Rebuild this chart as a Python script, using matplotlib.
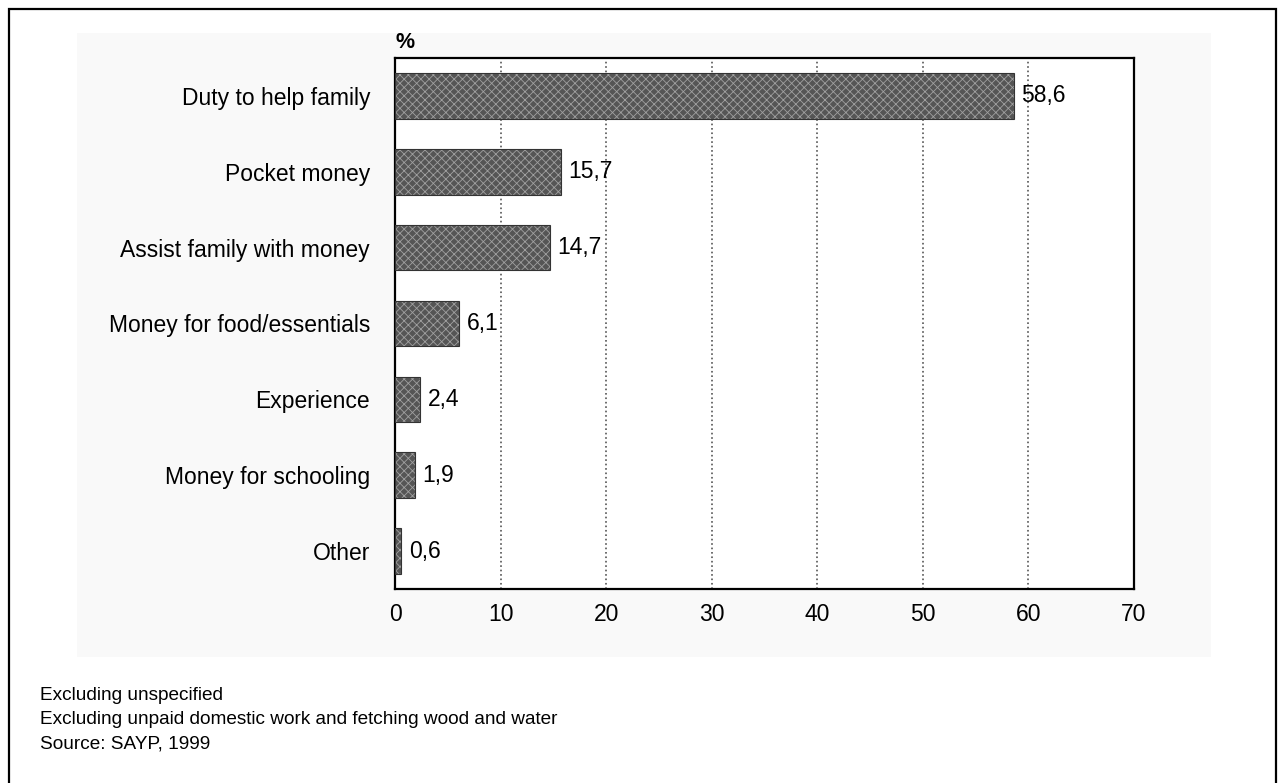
import matplotlib.pyplot as plt
from matplotlib.patches import Rectangle

categories = ["Duty to help family", "Pocket money", "Assist family with money",
              "Money for food/essentials", "Experience", "Money for schooling", "Other"]
values = [58.6, 15.7, 14.7, 6.1, 2.4, 1.9, 0.6]
value_labels = ["58,6", "15,7", "14,7", "6,1", "2,4", "1,9", "0,6"]
xticks = [0, 10, 20, 30, 40, 50, 60, 70]
notes = ["Excluding unspecified",
         "Excluding unpaid domestic work and fetching wood and water",
         "Source: SAYP, 1999"]

plt.rcParams['font.family'] = ['Liberation Sans', 'DejaVu Sans']
plt.rcParams['hatch.color'] = '#a8a8a8'
plt.rcParams['hatch.linewidth'] = 0.6

W, H = 1278, 783
fig = plt.figure(figsize=(W / 100, H / 100), dpi=100)
fig.patch.set_facecolor('white')

# outer frame and grey panel (behind the axes)
fig.add_artist(Rectangle((9 / W, -0.05), 1267 / W, 1.05 - 9 / H,
                         transform=fig.transFigure, fill=False,
                         edgecolor='black', linewidth=1.6, zorder=-2))
fig.add_artist(Rectangle((77 / W, 1 - 657 / H), (1211 - 77) / W, (657 - 33) / H,
                         transform=fig.transFigure, facecolor='#f9f9f9',
                         edgecolor='none', zorder=-1))

ax = fig.add_axes([395 / W, 1 - 589 / H, (1134 - 395) / W, (589 - 58) / H])
ax.set_facecolor('white')

ypos = list(range(len(categories)))
ax.barh(ypos, values, height=0.6, color='#555555', hatch='xxxx',
        edgecolor='#a0a0a0', linewidth=0, zorder=3)
ax.barh(ypos, values, height=0.6, fill=False, edgecolor='#333333',
        linewidth=0.8, zorder=4)

for y, v, lab in zip(ypos, values, value_labels):
    ax.text(v + 0.7, y, lab, va='center', ha='left', fontsize=16.5, zorder=5)

ax.set_xlim(0, 70)
ax.set_ylim(6.5, -0.5)
ax.set_xticks(xticks)
ax.set_yticks(ypos)
ax.set_yticklabels(categories)
ax.tick_params(axis='both', length=0, labelsize=16.5)
ax.tick_params(axis='y', pad=18)
ax.tick_params(axis='x', pad=10)
ax.xaxis.grid(True, linestyle=':', color='#555555', linewidth=1.2, zorder=1)
ax.set_axisbelow(True)
for s in ax.spines.values():
    s.set_linewidth(1.6)
    s.set_color('black')

ax.text(0, 1.01, '%', transform=ax.transAxes, fontsize=15.5, fontweight='bold',
        ha='left', va='bottom')

for i, note in enumerate(notes):
    fig.text(40 / W, 1 - (696 + i * 24) / H, note, fontsize=13.7, va='center', ha='left')

fig.savefig('out.png', dpi=100)
